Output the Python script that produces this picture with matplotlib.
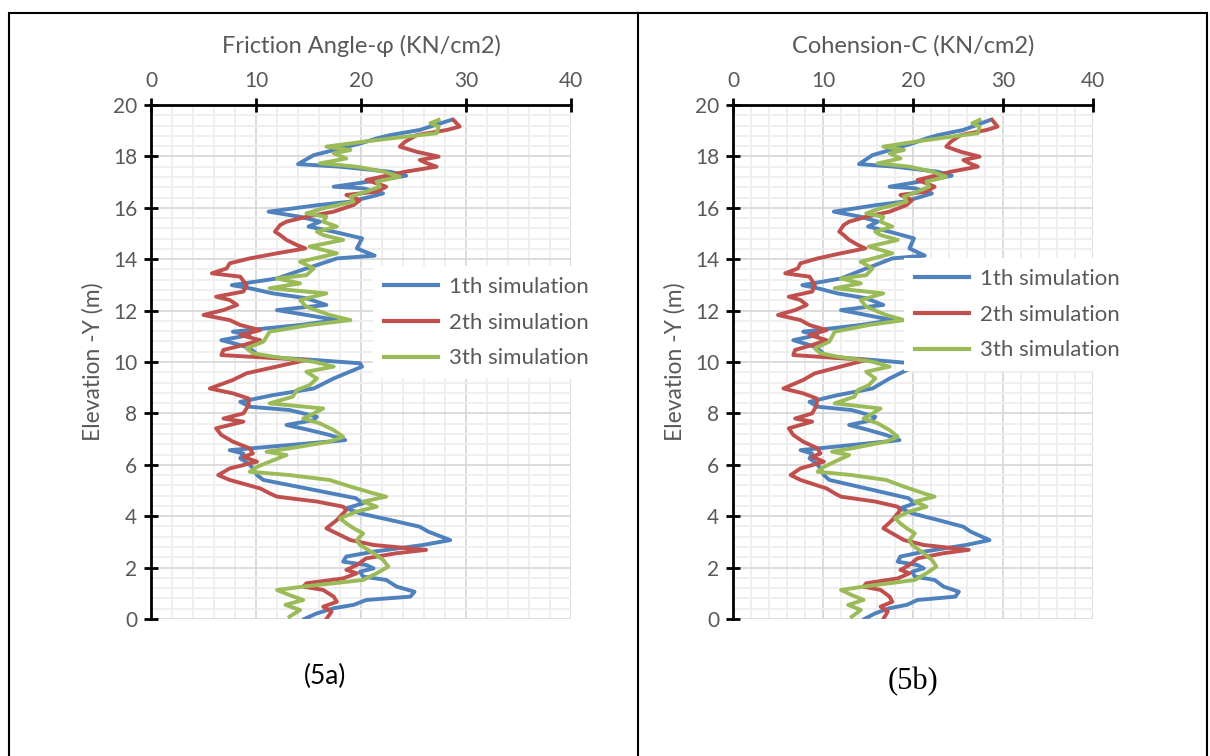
#!/usr/bin/env python3
"""Friction angle and cohesion profiles for three simulations."""

import matplotlib
matplotlib.use("Agg")
import matplotlib.pyplot as plt
from matplotlib.lines import Line2D
from matplotlib.patches import Rectangle
from matplotlib.ticker import MultipleLocator

# 1th simulation: elevation (m) and value
elev_1 = [19.42, 19.03, 18.83, 18.7, 18.5, 18.05, 17.7, 17.6, 17.4, 17.25, 17.08,
          16.82, 16.76, 16.56, 16.43, 16.24, 16.1, 15.85, 15.65, 15.46, 15.27, 15.07,
          14.81, 14.42, 14.14, 14.03, 13.77, 13.64, 13.25, 12.99, 12.87, 12.67, 12.48,
          12.22, 12.02, 11.83, 11.63, 11.44, 11.18, 11.05, 10.85, 10.66, 10.53, 10.21,
          10.08, 9.95, 9.82, 9.36, 8.97, 8.71, 8.45, 8.26, 8.13, 7.87, 7.74, 7.55,
          7.35, 7.16, 6.96, 6.77, 6.57, 6.44, 6.25, 6.05, 5.86, 5.6, 5.41, 5.0,
          4.7, 4.5, 4.31, 4.11, 3.85, 3.59, 3.4, 3.07, 2.88, 2.62, 2.43, 2.23,
          2.1, 1.97, 1.84, 1.65, 1.52, 1.26, 1.06, 0.87, 0.74, 0.55, 0.42, 0.22, 0.0]
val_1 = [28.6, 25.6, 22.8, 21.5, 19.9, 15.5, 14.0, 18.0, 22.8, 24.3, 21.8,
         17.4, 20.2, 22.1, 20.9, 19.0, 15.8, 11.2, 14.2, 16.1, 15.0, 17.4,
         20.1, 19.6, 21.3, 17.7, 15.8, 14.8, 12.0, 7.7, 9.4, 11.6, 14.8,
         16.7, 12.0, 14.8, 17.7, 14.2, 7.8, 9.4, 6.7, 8.5, 9.4, 10.4,
         15.5, 19.9, 20.1, 17.4, 15.5, 11.6, 8.5, 9.4, 13.2, 15.8, 15.5, 12.9,
         15.1, 17.0, 18.5, 13.2, 7.5, 8.8, 8.5, 9.3, 9.7, 10.1, 10.7, 15.8,
         19.5, 20.2, 18.6, 19.9, 22.8, 25.6, 26.4, 28.5, 25.9, 21.2, 18.6, 18.3,
         20.5, 21.2, 19.9, 20.2, 22.4, 23.4, 25.1, 24.7, 20.5, 19.3, 17.4, 15.8, 14.6]

# 2th simulation
elev_2 = [19.42, 19.16, 19.03, 18.83, 18.57, 18.38, 18.18, 17.99, 17.86, 17.73, 17.6,
          17.41, 17.28, 17.08, 16.95, 16.82, 16.63, 16.5, 16.3, 16.11, 15.85, 15.65,
          15.46, 15.33, 15.07, 14.94, 14.75, 14.55, 14.42, 14.23, 14.03, 13.84, 13.64,
          13.45, 13.32, 12.99, 12.74, 12.54, 12.41, 12.22, 12.02, 11.83, 11.63, 11.44,
          11.24, 11.05, 10.85, 10.66, 10.47, 10.27, 10.08, 9.56, 9.3, 8.97, 8.78,
          8.58, 8.32, 8.0, 7.8, 7.68, 7.42, 7.16, 6.9, 6.64, 6.44, 6.31, 6.12,
          5.86, 5.6, 5.41, 5.08, 4.89, 4.76, 4.57, 4.37, 4.24, 3.85, 3.53, 3.33,
          3.07, 2.88, 2.69, 2.56, 2.36, 2.1, 1.91, 1.78, 1.58, 1.39, 1.26, 1.13,
          0.87, 0.67, 0.48, 0.29, 0.0]
val_2 = [28.8, 29.4, 28.2, 25.3, 24.2, 23.7, 25.3, 27.4, 25.6, 26.3, 27.2,
         24.3, 22.8, 20.5, 21.5, 22.4, 21.5, 18.6, 19.9, 19.3, 17.4, 14.8,
         12.9, 12.3, 11.8, 12.3, 12.9, 13.9, 14.7, 12.0, 9.4, 7.5, 7.2,
         5.8, 8.5, 9.1, 8.8, 6.2, 7.5, 8.2, 6.9, 5.0, 7.5, 8.5,
         10.4, 8.5, 10.4, 8.8, 6.9, 6.7, 14.8, 9.1, 7.8, 5.6, 7.8,
         9.3, 9.3, 8.8, 6.9, 8.8, 6.2, 6.7, 7.8, 9.4, 9.7, 8.8, 10.1,
         7.5, 6.4, 7.5, 10.4, 11.3, 12.0, 15.8, 18.3, 18.6, 17.7, 16.7, 17.7,
         19.0, 21.2, 26.2, 23.4, 20.5, 19.6, 18.6, 19.6, 18.3, 14.8, 14.5, 16.4,
         17.4, 17.7, 16.4, 17.2, 16.7]

# 3th simulation
elev_3 = [19.42, 19.29, 19.16, 18.9, 18.77, 18.57, 18.38, 18.25, 18.12, 17.92, 17.73,
          17.6, 17.41, 17.21, 17.02, 16.82, 16.63, 16.43, 16.24, 15.98, 15.78, 15.65,
          15.46, 15.27, 15.07, 14.94, 14.75, 14.49, 14.23, 13.9, 13.64, 13.38, 13.25,
          13.06, 12.87, 12.67, 12.41, 12.15, 11.83, 11.63, 11.44, 11.18, 10.98, 10.79,
          10.53, 10.34, 10.21, 10.01, 9.82, 9.62, 9.36, 9.1, 8.91, 8.65, 8.39,
          8.19, 8.0, 7.8, 7.61, 7.35, 7.09, 6.9, 6.64, 6.51, 6.38, 6.12, 5.92,
          5.73, 5.6, 5.41, 5.15, 4.89, 4.76, 4.57, 4.37, 4.18, 3.92, 3.72, 3.53,
          3.33, 3.07, 2.88, 2.56, 2.3, 2.04, 1.78, 1.52, 1.39, 1.26, 1.13, 0.93,
          0.74, 0.55, 0.35, 0.09]
val_3 = [27.4, 26.6, 27.4, 27.2, 24.3, 20.2, 16.7, 19.0, 17.4, 18.6, 16.1,
         19.6, 22.1, 23.7, 21.5, 21.8, 20.5, 19.0, 19.3, 16.4, 14.8, 16.7,
         16.4, 17.7, 15.8, 16.4, 18.3, 15.1, 17.7, 14.2, 15.5, 14.8, 12.0,
         14.2, 11.3, 16.7, 14.2, 14.8, 17.0, 19.0, 15.1, 11.3, 11.0, 10.7,
         9.1, 9.7, 11.6, 15.5, 17.4, 14.8, 15.8, 15.1, 13.9, 13.5, 11.3,
         16.4, 15.5, 14.5, 16.1, 17.4, 18.3, 17.0, 13.2, 11.0, 12.9, 11.3, 10.1,
         9.4, 13.2, 17.0, 19.0, 21.2, 22.4, 20.2, 21.5, 19.6, 18.0, 18.6, 19.3,
         20.2, 19.6, 19.9, 21.2, 22.1, 22.6, 21.5, 20.2, 17.4, 14.5, 12.0, 13.2,
         14.5, 12.8, 14.2, 13.2]

labels = ["1th simulation", "2th simulation", "3th simulation"]
colors = ["#4F81BD", "#C0504D", "#9BBB59"]
x_titles = ["Friction Angle-\u03c6 (KN/cm2)", "Cohension-C (KN/cm2)"]
y_title = "Elevation -Y (m)"
captions = ["(5a)", "(5b)"]

FONT = ["Lato", "DejaVu Sans"]
GRAY = "#595959"

W, H = 1210, 756


def px(x0, y0, w, h):
    return [x0 / W, 1 - (y0 + h) / H, w / W, h / H]


def draw(ax, x_title):
    series = [(elev_1, val_1), (elev_2, val_2), (elev_3, val_3)]
    for (e, v), lab, c in zip(series, labels, colors):
        ax.plot(v, e, color=c, lw=2.8, label=lab, solid_joinstyle="round")
    ax.set_xlim(0, 40)
    ax.set_ylim(0, 20)
    ax.xaxis.tick_top()
    ax.xaxis.set_label_position("top")
    ax.xaxis.set_major_locator(MultipleLocator(10))
    ax.xaxis.set_minor_locator(MultipleLocator(2))
    ax.yaxis.set_major_locator(MultipleLocator(2))
    ax.yaxis.set_minor_locator(MultipleLocator(0.4))
    ax.grid(which="major", color="#d9d9d9", lw=1.3)
    ax.grid(which="minor", color="#eeeeee", lw=1.3)
    ax.set_axisbelow(True)
    for s in ["right", "bottom"]:
        ax.spines[s].set_visible(False)
    for s in ["left", "top"]:
        ax.spines[s].set_linewidth(2.0)
    ax.tick_params(which="major", direction="inout", length=10, width=2.0,
                   labelsize=15, labelcolor=GRAY, pad=5)
    ax.tick_params(which="minor", length=0)
    for t in ax.get_xticklabels() + ax.get_yticklabels():
        t.set_family(FONT)
    ax.set_xlabel(x_title, family=FONT, fontsize=17, color=GRAY, labelpad=13)
    ax.set_ylabel(y_title, family=FONT, fontsize=16.5, color=GRAY, labelpad=7)


fig = plt.figure(figsize=(W / 100, H / 100), dpi=100)
ax1 = fig.add_axes(px(151, 105, 420, 514))
ax2 = fig.add_axes(px(733, 105, 360, 514))
draw(ax1, x_titles[0])
draw(ax2, x_titles[1])

for ax, (lx, ly) in zip([ax1, ax2], [(362, 255), (893, 247)]):
    leg = ax.legend(loc="upper left", bbox_to_anchor=(lx / W, 1 - ly / H),
                    bbox_transform=fig.transFigure, frameon=True,
                    facecolor="white", edgecolor="none", framealpha=1,
                    fancybox=False, handlelength=2.4, handletextpad=0.5,
                    labelspacing=0.7, borderpad=0.5,
                    prop={"family": FONT, "size": 16})
    for t in leg.get_texts():
        t.set_color(GRAY)
    for h in leg.get_lines():
        h.set_linewidth(3.0)

fig.text(325 / W, 1 - 676 / H, captions[0], family=FONT, fontsize=19,
         ha="center", va="center", color="black")
fig.text(913 / W, 1 - 682 / H, captions[1], family=["Liberation Serif", "DejaVu Serif"],
         fontsize=22, ha="center", va="center", color="black")

# table borders
fig.add_artist(Rectangle((9 / W, -0.05), 1198 / W, 1.05 - 13 / H,
                         transform=fig.transFigure, fill=False,
                         edgecolor="black", lw=1.5))
fig.add_artist(Line2D([638 / W, 638 / W], [0, 1 - 13 / H],
                      transform=fig.transFigure, color="black", lw=1.5))

fig.savefig("out.png", dpi=100)
